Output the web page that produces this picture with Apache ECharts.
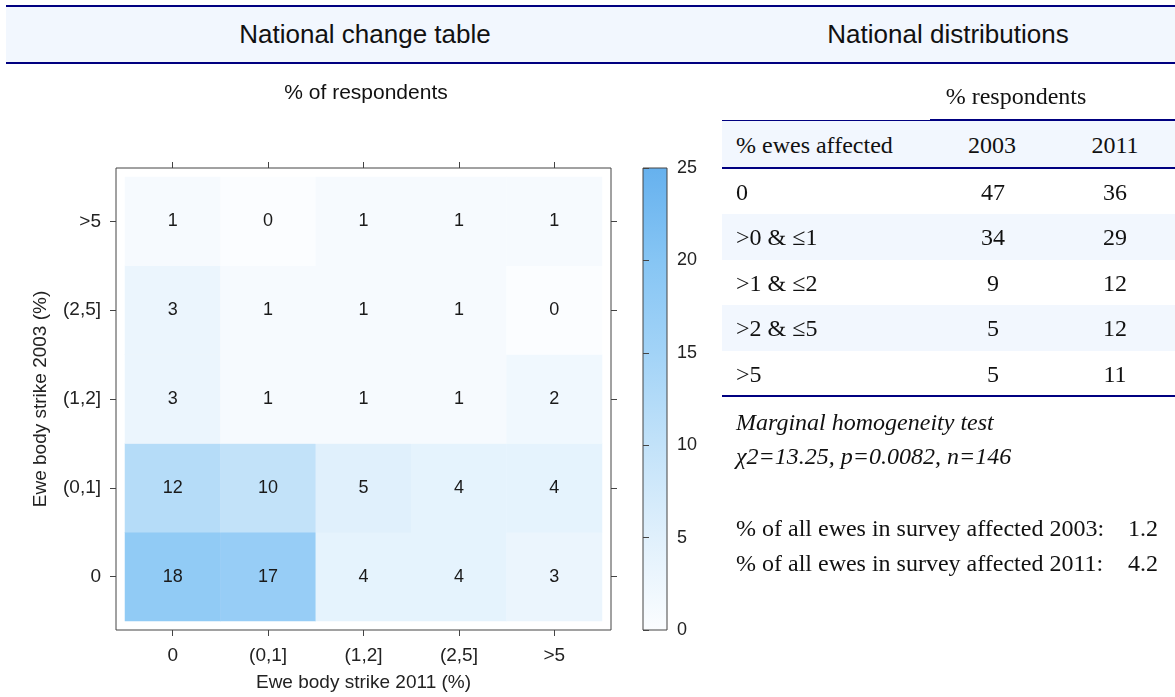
<!DOCTYPE html>
<html>
<head>
<meta charset="utf-8">
<script src="https://cdn.jsdelivr.net/npm/echarts@6/dist/echarts.min.js"></script>
<style>
  body { margin: 0; background: #fff; }
  #page { position: relative; width: 1175px; height: 697px; overflow: hidden; }
  #main { position: absolute; left: 0; top: 0; width: 1175px; height: 697px; }
  .txt { position: absolute; white-space: nowrap; color: #111; }
  .sans { font-family: "Liberation Sans", Arial, sans-serif; }
  .serif { font-family: "Liberation Serif", "Times New Roman", serif; font-size: 24px; }
</style>
</head>
<body>
<div id="page">
  <div id="main"></div>
  <div style="position:absolute;left:6px;top:5px;width:1169px;height:55px;background:#f2f7fe;border-top:2px solid #000080;border-bottom:2px solid #000080"></div>
  <div class="txt sans" style="left:165px;width:400px;top:19px;line-height:30px;font-size:26px;text-align:center">National change table</div>
  <div class="txt sans" style="left:748px;width:400px;top:19px;line-height:30px;font-size:26px;text-align:center">National distributions</div>
  <div class="txt sans" style="left:216px;width:300px;top:79px;line-height:26px;font-size:21px;text-align:center">% of respondents</div>
  <div id="table"></div>
</div>
<script>
// heatmap: rows are 2003 classes, columns are 2011 classes
var xCats = ['0', '(0,1]', '(1,2]', '(2,5]', '>5'];
var yCats = ['0', '(0,1]', '(1,2]', '(2,5]', '>5'];
// one array per 2003 row, values in 2011 column order
var row0 = [18, 17, 4, 4, 3];
var row01 = [12, 10, 5, 4, 4];
var row12 = [3, 1, 1, 1, 2];
var row25 = [3, 1, 1, 1, 0];
var row5 = [1, 0, 1, 1, 1];
var rows = [row0, row01, row12, row25, row5];

// colour scale 0..25
var scaleTicks = [0, 5, 10, 15, 20, 25];
var scaleColors = ['#fbfdff', '#e0f0fc', '#c2e2f9', '#a2d3f7', '#86c5f4', '#66b1ee'];

// right hand table
var distLabels = ['0', '>0 & \u22641', '>1 & \u22642', '>2 & \u22645', '>5'];
var dist2003 = [47, 34, 9, 5, 5];
var dist2011 = [36, 29, 12, 12, 11];
var testTitle = 'Marginal homogeneity test';
var testText = '\u03c72=13.25, p=0.0082, n=146';
var allEwesLabels = ['% of all ewes in survey affected 2003:', '% of all ewes in survey affected 2011:'];
var allEwesValues = ['1.2', '4.2'];

var heatData = [];
for (var r = 0; r < rows.length; r++) {
    for (var c = 0; c < rows[r].length; c++) {
        heatData.push([c, r, rows[r][c]]);
    }
}

var stops = [];
for (var i = 0; i < scaleColors.length; i++) {
    stops.push({offset: i / (scaleColors.length - 1), color: scaleColors[i]});
}

var tickStyle = {show: true, alignWithLabel: true, length: 6, lineStyle: {color: '#444'}};
var labelStyle = {fontSize: 19, color: '#222'};

var myChart = echarts.init(document.getElementById('main'));
var option = {
    animation: false,
    textStyle: {fontFamily: 'Liberation Sans'},
    grid: [
        {left: 125, top: 177, width: 477, height: 444},
        {left: 116, top: 168, width: 495, height: 462, show: true, borderColor: '#444', borderWidth: 1, backgroundColor: 'transparent'},
        {left: 643, top: 168, width: 24, height: 462, show: true, borderColor: '#444', borderWidth: 1,
         backgroundColor: new echarts.graphic.LinearGradient(0, 1, 0, 0, stops)}
    ],
    xAxis: [
        {gridIndex: 0, type: 'category', data: xCats, position: 'bottom', offset: 9,
         axisLine: {show: false}, axisTick: tickStyle, axisLabel: Object.assign({margin: 16}, labelStyle),
         name: 'Ewe body strike 2011 (%)', nameLocation: 'middle', nameGap: 43,
         nameTextStyle: {fontSize: 19, color: '#222'}},
        {gridIndex: 0, type: 'category', data: xCats, position: 'top', offset: 9,
         axisLine: {show: false}, axisTick: tickStyle, axisLabel: {show: false}},
        {gridIndex: 1, type: 'value', show: false},
        {gridIndex: 2, type: 'value', show: false}
    ],
    yAxis: [
        {gridIndex: 0, type: 'category', data: yCats, position: 'left', offset: 9,
         axisLine: {show: false}, axisTick: tickStyle, axisLabel: Object.assign({margin: 15}, labelStyle),
         name: 'Ewe body strike 2003 (%)', nameLocation: 'middle', nameGap: 66,
         nameTextStyle: {fontSize: 19, color: '#222'}},
        {gridIndex: 0, type: 'category', data: yCats, position: 'right', offset: 9,
         axisLine: {show: false}, axisTick: tickStyle, axisLabel: {show: false}},
        {gridIndex: 1, type: 'value', show: false},
        {gridIndex: 2, type: 'value', position: 'right', min: scaleTicks[0], max: scaleTicks[scaleTicks.length - 1], interval: 5,
         axisLine: {show: false}, splitLine: {show: false},
         axisTick: {show: true, length: 6, lineStyle: {color: '#444'}},
         axisLabel: {fontSize: 18, color: '#222', margin: 10}}
    ],
    visualMap: {
        show: false,
        type: 'continuous',
        min: 0,
        max: 25,
        seriesIndex: 0,
        inRange: {color: scaleColors}
    },
    series: [{
        type: 'heatmap',
        xAxisIndex: 0,
        yAxisIndex: 0,
        data: heatData,
        label: {show: true, fontSize: 18, color: '#1a1a1a'},
        emphasis: {disabled: true}
    }]
};
myChart.setOption(option);

// the distribution table on the right
var html = '';
function txt(x, y, text, extra) {
    return '<div class="txt serif" style="left:' + x + 'px;top:' + (y - 15) + 'px;line-height:30px;' + (extra || '') + '">' + text + '</div>';
}
function centred(cx, y, text, extra) {
    return '<div class="txt serif" style="left:' + (cx - 100) + 'px;width:200px;text-align:center;top:' + (y - 15) + 'px;line-height:30px;' + (extra || '') + '">' + text + '</div>';
}
function esc(s) {
    return String(s).replace(/&/g, '&amp;').replace(/</g, '&lt;').replace(/>/g, '&gt;');
}
html += centred(1016, 96, '% respondents');
html += '<div style="position:absolute;left:722px;top:120px;width:453px;height:48px;background:#f2f7fe"></div>';
html += '<div style="position:absolute;left:722px;top:120px;width:208px;height:1px;background:#000080"></div>';
html += '<div style="position:absolute;left:930px;top:119px;width:245px;height:2px;background:#000080"></div>';
html += txt(736, 145, '% ewes affected');
html += centred(992, 145, '2003');
html += centred(1115, 145, '2011');
for (var k = 0; k < distLabels.length; k++) {
    var rowTop = Math.round(169 + 45.4 * k);
    if (k % 2 == 1) {
        html += '<div style="position:absolute;left:722px;top:' + rowTop + 'px;width:453px;height:46px;background:#f2f7fe"></div>';
    }
    var cy = rowTop + 23;
    html += txt(736, cy, esc(distLabels[k]));
    html += centred(993, cy, dist2003[k]);
    html += centred(1115, cy, dist2011[k]);
}
html += '<div style="position:absolute;left:722px;top:167px;width:453px;height:2px;background:#000080"></div>';
html += '<div style="position:absolute;left:722px;top:395px;width:453px;height:2px;background:#000080"></div>';
html += txt(736, 422, testTitle, 'font-style:italic');
html += txt(736, 456, testText, 'font-style:italic');
for (var m = 0; m < allEwesLabels.length; m++) {
    var yy = 528 + 35 * m;
    html += txt(736, yy, allEwesLabels[m]);
    html += '<div class="txt serif" style="left:1058px;width:100px;text-align:right;top:' + (yy - 15) + 'px;line-height:30px">' + allEwesValues[m] + '</div>';
}
document.getElementById('table').innerHTML = html;
</script>
</body>
</html>
